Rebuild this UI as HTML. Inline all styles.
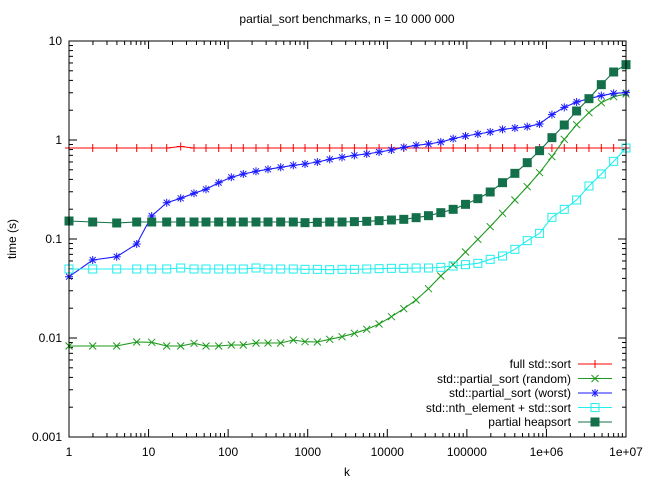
<!DOCTYPE html>
<html><head><meta charset="utf-8"><style>
html,body{margin:0;padding:0;background:#fff;}
svg{display:block;font-family:"Liberation Sans",sans-serif;}
</style></head><body>
<svg id="s" width="645" height="485" xmlns="http://www.w3.org/2000/svg">
<rect width="645" height="485" fill="#fff"/>
<text x="347" y="23" font-size="12" text-anchor="middle">partial_sort benchmarks, n = 10 000 000</text>
<text x="0" y="0" font-size="12" text-anchor="middle" transform="translate(16,239) rotate(-90)">time (s)</text>
<text x="347" y="476" font-size="12" text-anchor="middle">k</text>
<g id="ax"></g>
<g id="ser"></g>
<rect x="69" y="41" width="557" height="396" fill="none" stroke="#000" stroke-width="1"/>
<g font-size="12" text-anchor="end">
<text x="571" y="368">full std::sort</text>
<text x="571" y="383">std::partial_sort (random)</text>
<text x="571" y="397">std::partial_sort (worst)</text>
<text x="571" y="412">std::nth_element + std::sort</text>
<text x="571" y="426">partial heapsort</text>
</g>
</svg>
<script>
var NS="http://www.w3.org/2000/svg";
function el(t,a,p){var e=document.createElementNS(NS,t);for(var k in a)e.setAttribute(k,a[k]);(p||document.getElementById('ax')).appendChild(e);return e;}
var L=69,R=626,T=41,B=437,dx=(R-L)/7,dy=(B-T)/4;
var ylab=["10","1","0.1","0.01","0.001"];
for(var d=0;d<=4;d++){var y=T+d*dy;
 el('line',{x1:L,y1:y,x2:L+8,y2:y,stroke:'#000'});el('line',{x1:R,y1:y,x2:R-8,y2:y,stroke:'#000'});
 var t=el('text',{x:L-7,y:y+4,'font-size':12,'text-anchor':'end'});t.textContent=ylab[d];
 if(d<4)for(var m=2;m<=9;m++){var yy=T+(d+1)*dy-Math.log10(m)*dy;
  el('line',{x1:L,y1:yy,x2:L+4,y2:yy,stroke:'#000'});el('line',{x1:R,y1:yy,x2:R-4,y2:yy,stroke:'#000'});}}
var xlab=["1","10","100","1000","10000","100000","1e+06","1e+07"];
for(var d=0;d<=7;d++){var x=L+d*dx;
 el('line',{x1:x,y1:B,x2:x,y2:B-8,stroke:'#000'});el('line',{x1:x,y1:T,x2:x,y2:T+8,stroke:'#000'});
 var t=el('text',{x:x,y:B+19,'font-size':12,'text-anchor':'middle'});t.textContent=xlab[d];
 if(d<7)for(var m=2;m<=9;m++){var xx=x+Math.log10(m)*dx;
  el('line',{x1:xx,y1:B,x2:xx,y2:B-4,stroke:'#000'});el('line',{x1:xx,y1:T,x2:xx,y2:T+4,stroke:'#000'});}}
var X=[69,92.7,116.7,136.7,151.7,166.7,180.7,194,206,218.7,231.3,243.3,256,268,280.7,293.3];
for(var i=0;i<27;i++)X.push(305+i*(321/26));
function z(a){return a.map(function(v){return 40+v/3;});}
function rep(v,n){var a=[];for(var i=0;i<n;i++)a.push(v);return a;}
var red=rep(148,43);red[6]=146.5;
var blue=[276.7,260,256.7,244,216,202.7,198.3,193.3,189.3,182.7,177.3,174,171.3,169.3,167.3,165.3].concat(z([372,366,358,352,346,342,336,330,322,316,312,306,296,288,282,276,268,264,260,252,224,202,186,176,167,160,158]));
var heap=[221,222,223,222,222,222,222,222,222,222,222,222,222,222,222,222].concat(z([548,547,546,546,545,544,542,540,538,533,527,518,508,493,476,456,428,400,368,332,293,255,213,176,134,96,74]));
var cyan=[269,269,269,269,269,269,268,269,269,269,269,269,268,269,269,269].concat(z([688,688,689,688,688,687,686,685,685,684,684,682,678,674,670,658,648,628,602,580,532,508,480,438,402,364,324]));
var green=[346,346,346,342,342.3,346,346,343.3,346,346,345,345,343,343,343,340].concat(z([905,906,898,890,880,868,852,830,806,780,746,708,674,636,598,560,520,480,440,398,350,298,254,218,188,170,162]));
var G=document.getElementById('ser');
function marker(type,x,y,c){
 if(type==0){el('path',{d:'M'+(x-4)+' '+y+'h8M'+x+' '+(y-4)+'v8',stroke:c,fill:'none'},G);}
 else if(type==1){el('path',{d:'M'+(x-3.5)+' '+(y-3.5)+'l7 7M'+(x-3.5)+' '+(y+3.5)+'l7 -7',stroke:c,fill:'none'},G);}
 else if(type==2){el('path',{d:'M'+(x-4)+' '+y+'h8M'+x+' '+(y-4)+'v8M'+(x-3)+' '+(y-3)+'l6 6M'+(x-3)+' '+(y+3)+'l6 -6',stroke:c,fill:'none'},G);}
 else if(type==3){el('rect',{x:x-4,y:y-4,width:8,height:8,stroke:c,fill:'none'},G);}
 else {el('rect',{x:x-4.5,y:y-4.5,width:9,height:9,fill:c},G);}
}
var S=[[red,'#ff0000',0],[green,'#1e9a1e',1],[blue,'#1a1aff',2],[cyan,'#22eeee',3],[heap,'#14704a',4]];
S.forEach(function(s,si){
 var d='';for(var i=0;i<43;i++)d+=(i?'L':'M')+X[i]+' '+s[0][i];
 el('path',{d:d,stroke:s[1],fill:'none','stroke-width':1.1},G);
 for(var i=0;i<43;i++)marker(s[2],X[i],s[0][i],s[1]);
 var ly=364+si*14.5;
 el('line',{x1:578,y1:ly,x2:612,y2:ly,stroke:s[1]},G);
 marker(s[2],595,ly,s[1]);
});
</script>
</body></html>
